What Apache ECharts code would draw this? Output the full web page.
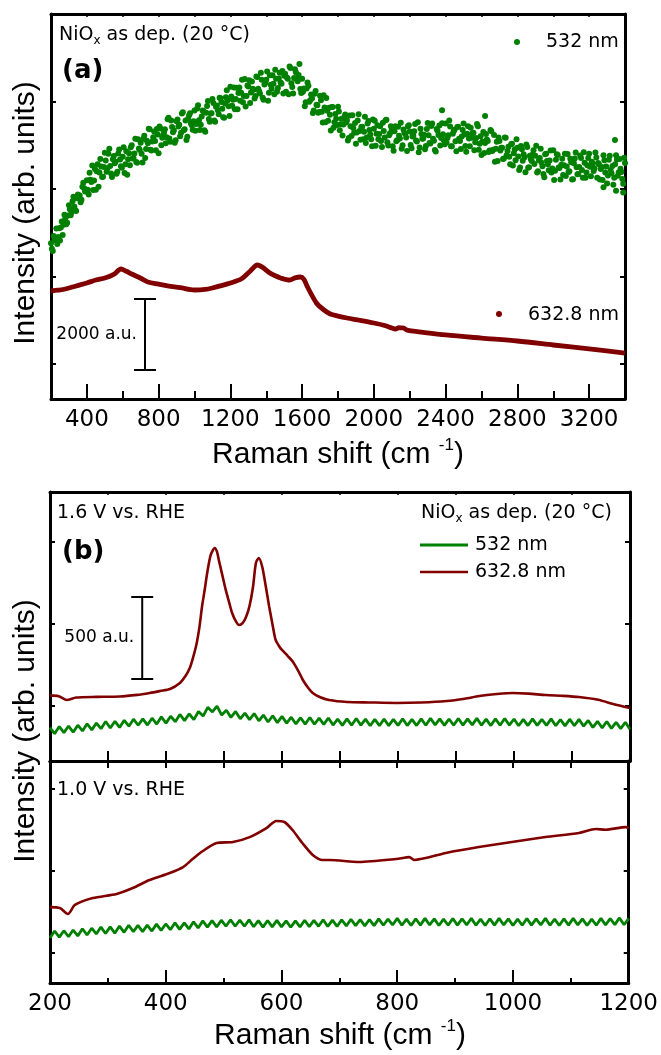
<!DOCTYPE html>
<html><head><meta charset="utf-8">
<script src="https://cdn.jsdelivr.net/npm/echarts/dist/echarts.min.js"></script>
<style>html,body{margin:0;padding:0;background:#fff}#c{width:661px;height:1055px}</style>
</head><body><div id="c"></div>
<script>
// ---------- Panel (a) data ----------
const greenA1 = [
[200,3450],[210,3230],[220,3555],[230,3870],[240,3630],[250,3530],[260,4070],[270,3980],[280,4160],[290,4035],
[300,4535],[310,4250],[320,4650],[330,4500],[340,4370],[350,4840],[360,4815],[370,4690],[380,5180],[390,4930],
[400,5250],[410,4840],[420,5265],[430,5670],[440,5240],[450,4980],[460,5710],[470,5470],[480,5640],[490,5350],
[500,6035],[510,5490],[520,6010],[530,5655],[540,5340],[550,5945],[560,5780],[570,5490],[580,6130],[590,5650],
[600,5920],[610,5460],[620,6080],[630,5850],[640,5680],[650,6250],[660,5885],[670,6435],[680,5750],[690,6160],
[700,6325],[710,5760],[720,6520],[730,6145],[740,6305],[750,6710],[760,6100],[770,6480],[780,6375],[790,6715],
[800,6020],[810,6728],[820,6465],[830,6613],[840,6310],[850,6993],[860,6445],[870,6958],[880,6620],[890,6318],
[900,6935],[910,6783],[920,6510],[930,7155],[940,6680],[950,6955],[960,6490],[970,7105],[980,6870],[990,6695],
[1000,7240],[1010,6855],[1020,7390],[1030,6685],[1040,7070],[1050,7218],[1060,6635],[1070,7373],[1080,7000],[1090,7160],
[1100,7570],[1110,6960],[1120,7350],[1130,7253],[1140,7605],[1150,7488],[1160,7050],[1170,7445],[1180,7820],[1190,7365],
[1200,7920],[1210,7380],[1220,7900],[1230,7570],[1240,7280],[1250,7900],[1260,7750],[1270,7480],[1280,8140],[1290,7660],
[1300,7930],[1310,7460],[1320,8070],[1330,7833],[1340,7655],[1350,8198],[1360,7800],[1370,8325],[1380,7610],[1390,7985],
[1400,8120],[1410,7525],[1420,8250],[1430,7865],[1440,8010],[1450,8405],[1460,7780],[1470,8155],[1480,8040],[1490,8373],
[1500,8235],[1510,7778],[1520,8150],[1530,8503],[1540,8025],[1550,7728],[1560,8420],[1570,8135],[1580,8260],[1590,7860],
[1600,8150],[1610,7870],[1620,7480],[1630,8040],[1640,7490],[1650,7700],[1660,7170],[1670,7720],[1680,7410],[1690,7180],
[1700,7665],[1710,7210],[1720,7680],[1730,6910],[1740,7235],[1750,7320],[1760,6670],[1770,7345],[1780,6910],[1790,7005],
[1800,7350],[1810,6678],[1820,7005],[1830,6843],[1840,7130],[1850,6955],[1860,6460],[1870,6795],[1880,7110],[1890,6610],
[1900,6290],[1910,6960],[1920,6660],[1930,6768],[1940,6425],[1950,7063],[1960,6470],[1970,6940],[1980,6560],[1990,6220],
[2000,6720],[2010,6233],[2020,6825],[2030,6568],[2040,6370],[2050,6893],[2060,6475],[2070,6978],[2080,6240],[2090,6594],
[2100,6708],[2110,6091],[2120,6795],[2130,6391],[2140,6518],[2150,6894],[2160,6250],[2170,6608],[2180,6475],[2190,6793],
[2200,6640],[2210,6165],[2220,6520],[2230,6855],[2240,6360],[2250,6048],[2260,6725],[2270,6433],[2280,6550],[2290,6228],
[2300,6885],[2310,6313],[2320,6800],[2330,6438],[2340,6115],[2350,6713],[2360,6540],[2370,6245],[2380,6880],[2390,6395],
[2400,6870],[2410,6455],[2420,6960],[2430,6225],[2440,6580],[2450,6694],[2460,6078],[2470,6781],[2480,6375],[2490,6499],
[2500,6873],[2510,6226],[2520,6580],[2530,6440],[2540,6750],[2550,6590],[2560,6110],[2570,6460],[2580,6790],[2590,6290],
[2600,5970],[2610,6628],[2620,6315],[2630,6413],[2640,6060],[2650,6688],[2660,6085],[2670,6543],[2680,6150],[2690,5803],
[2700,6375],[2710,6178],[2720,5860],[2730,6473],[2740,5965],[2750,6208],[2760,5710],[2770,6293],[2780,6025],[2790,5818],
[2800,6180],[2810,5545],[2820,6230],[2830,5805],[2840,5910],[2850,6270],[2860,5610],[2870,5950],[2880,5800],[2890,6110],
[2900,5950],[2910,5470],[2920,5820],[2930,6151],[2940,5653],[2950,5334],[2960,6005],[2970,5704],[2980,5813],[2990,5471],
[3000,6110],[3010,5521],[3020,5993],[3030,5614],[3040,5275],[3050,5861],[3060,5678],[3070,5374],[3080,6000],[3090,5506],
[3100,5763],[3110,5279],[3120,5875],[3130,5623],[3140,5430],[3150,5958],[3160,5545],[3170,6053],[3180,5320],[3190,5678],
[3200,6005],[3210,5361],[3220,5718],[3230,5584],[3240,5900],[3250,5746],[3260,5273],[3270,5629],[3280,5965],[3290,5471],
[3300,5158],[3310,5834],[3320,5540],[3330,5655],[3340,5320],[3350,5965],[3360,5380],[3370,5858],[3380,5485],[3390,5153],
[3400,5740],
[2380,7250],[2620,7085],[3344,6400],[3390,4900],[3280,5050],[3350,4950]
];
const greenA2 = [
[205,3295],[215,3660],[225,3535],[235,3430],[245,3880],[255,3900],[265,3685],[275,4265],[285,3995],[295,4245],
[305,4425],[315,4345],[325,4780],[335,4400],[345,4735],[355,4740],[365,4620],[375,5065],[385,5025],[395,4935],
[405,4980],[415,5462],[425,5198],[435,4970],[445,5575],[455,5505],[465,5065],[475,5855],[485,5340],[495,5628],
[505,5813],[515,5590],[525,6148],[535,5443],[545,5848],[555,5733],[565,5435],[575,6015],[585,5845],[595,5605],
[605,6190],[615,5710],[625,5410],[635,6020],[645,6190],[655,5873],[665,6015],[675,5768],[685,6425],[695,6113],
[705,6008],[715,6435],[725,5883],[735,6380],[745,6718],[755,6125],[765,6360],[775,6643],[785,6105],[795,6558],
[805,6784],[815,6251],[825,6529],[835,6706],[845,6476],[855,7039],[865,6351],[875,6774],[885,6674],[895,6391],
[905,6989],[915,6836],[925,6608],[935,7193],[945,6708],[955,6403],[965,7008],[975,7163],[985,6818],[995,6933],
[1005,6663],[1015,7298],[1025,6963],[1035,6838],[1045,7244],[1055,6681],[1065,7179],[1075,7516],[1085,6925],[1095,7165],
[1105,7455],[1115,6925],[1125,7386],[1135,7139],[1145,7591],[1155,7294],[1165,7038],[1175,7623],[1185,7538],[1195,7083],
[1205,7640],[1215,7550],[1225,7280],[1235,7890],[1245,7745],[1255,7525],[1265,8125],[1275,7655],[1285,7355],[1295,7955],
[1305,8105],[1315,7755],[1325,7867],[1335,7589],[1345,8212],[1355,7864],[1365,7728],[1375,8123],[1385,7548],[1395,8033],
[1405,8358],[1415,7753],[1425,7978],[1435,8253],[1445,7708],[1455,8153],[1465,7888],[1475,8323],[1485,8007],[1495,7729],
[1505,8292],[1515,8184],[1525,7707],[1535,8459],[1545,7912],[1555,8174],[1565,8333],[1575,8078],[1585,8575],[1595,7745],
[1605,7780],[1615,7365],[1625,7875],[1635,7950],[1645,7535],[1655,7585],[1665,7245],[1675,7800],[1685,7390],[1695,7198],
[1705,7533],[1715,6900],[1725,7330],[1735,7603],[1745,6948],[1755,7120],[1765,7343],[1775,6748],[1785,7143],[1795,6828],
[1805,7214],[1815,6851],[1825,6529],[1835,7046],[1845,6898],[1855,6383],[1865,7098],[1875,6513],[1885,6745],[1895,6885],
[1905,6615],[1915,7135],[1925,6404],[1935,6781],[1945,6639],[1955,6316],[1965,6875],[1975,6685],[1985,6425],[1995,6985],
[2005,6947],[2015,6579],[2025,6422],[2035,6794],[2045,6197],[2055,6659],[2065,6962],[2075,6334],[2085,6537],[2095,6791],
[2105,6225],[2115,6648],[2125,6363],[2135,6780],[2145,6446],[2155,6152],[2165,6699],[2175,6577],[2185,6084],[2195,6822],
[2205,6258],[2215,6503],[2225,6648],[2235,6383],[2245,6909],[2255,6187],[2265,6574],[2275,6442],[2285,6134],[2295,6712],
[2305,6539],[2315,6297],[2325,6874],[2335,6382],[2345,6069],[2355,6667],[2365,6813],[2375,6458],[2385,6563],[2395,6278],
[2405,6328],[2415,6533],[2425,6788],[2435,6223],[2445,6647],[2455,6361],[2465,6775],[2475,6438],[2485,6142],[2495,6686],
[2505,6560],[2515,6063],[2525,6795],[2535,6225],[2545,6465],[2555,6605],[2565,6335],[2575,6855],[2585,6125],[2595,6505],
[2605,6359],[2615,6027],[2625,6574],[2635,6372],[2645,6099],[2655,6647],[2665,6124],[2675,5782],[2685,6352],[2695,6474],
[2705,6097],[2715,6179],[2725,5872],[2735,6464],[2745,6087],[2755,5919],[2765,6282],[2775,5674],[2785,6127],[2795,6419],
[2805,5928],[2815,5613],[2825,6138],[2835,5993],[2845,5480],[2855,6200],[2865,5620],[2875,5850],[2885,5985],[2895,5715],
[2905,6235],[2915,5505],[2925,5886],[2935,5747],[2945,5428],[2955,5990],[2965,5800],[2975,5538],[2985,6097],[2995,5586],
[3005,5256],[3015,5837],[3025,5968],[3035,5600],[3045,5693],[3055,5400],[3065,6006],[3075,5642],[3085,5488],[3095,5865],
[3105,5271],[3115,5737],[3125,6044],[3135,5421],[3145,5629],[3155,5886],[3165,5324],[3175,5751],[3185,5469],[3195,5886],
[3205,5633],[3215,5780],[3225,5516],[3235,6042],[3245,5318],[3255,5705],[3265,5571],[3275,5257],[3285,5823],[3295,5640],
[3305,5386],[3315,5952],[3325,5448],[3335,5123],[3345,5708],[3355,5843],[3365,5479],[3375,5577],[3385,5284],[3395,5892]
];
const redA = [
[200,2086],[240,2110],[280,2143],[340,2230],[400,2314],[450,2400],[500,2457],[550,2560],[590,2714],[620,2650],
[650,2571],[700,2450],[740,2343],[800,2280],[850,2229],[920,2180],[1000,2114],[1060,2130],[1100,2171],[1150,2240],
[1200,2314],[1260,2428],[1310,2650],[1350,2828],[1380,2760],[1420,2600],[1450,2520],[1480,2457],[1530,2400],[1560,2460],
[1590,2486],[1610,2420],[1630,2200],[1680,1743],[1720,1550],[1757,1430],[1800,1370],[1850,1314],[1920,1250],[2000,1171],
[2060,1100],[2100,1029],[2120,1000],[2140,1040],[2165,1029],[2190,960],[2250,920],[2400,829],[2600,740],[2800,657],
[3000,543],[3200,429],[3400,314]
];
const xLabelsA = [400,800,1200,1600,2000,2400,2800,3200];
const xMinorA = [600,1000,1400,1800,2200,2600,3000];
const yTicksA = [0,2500,5000,7500];
const scaleBarA = [[724,-171,1857]];
const scaleLabelA = '2000 a.u.';

// ---------- Panel (b) data ----------
const xWave = [200,208,216,224,232,240,248,256,264,272,280,288,296,304,312,320,328,336,344,352,360,368,376,384,392,
400,408,416,424,432,440,448,456,464,472,480,488,496,504,512,520,528,536,544,552,560,568,576,584,592,
600,608,616,624,632,640,648,656,664,672,680,688,696,704,712,720,728,736,744,752,760,768,776,784,792,
800,808,816,824,832,840,848,856,864,872,880,888,896,904,912,920,928,936,944,952,960,968,976,984,992,
1000,1008,1016,1024,1032,1040,1048,1056,1064,1072,1080,1088,1096,1104,1112,1120,1128,1136,1144,1152,1160,1168,1176,1184,1192,1200];
const greenB1 = [368,331,375,338,378,341,383,348,392,355,396,362,406,366,407,370,413,377,420,383,422,384,426,390,434,
396,438,405,449,411,453,417,467,439,492,464,500,445,474,431,467,422,457,417,454,410,445,403,441,399,
437,396,432,391,429,390,430,389,426,388,427,384,421,382,422,383,424,384,420,380,419,381,421,381,419,
382,423,381,419,381,422,383,425,385,422,382,421,383,424,384,422,385,425,383,420,381,422,383,424,384,
421,380,419,381,422,382,419,382,422,380,418,379,420,380,419,377,412,370,407,367,406,364,401,362,401,358];
const greenB2 = [591,634,597,636,599,640,604,648,610,651,616,658,619,659,621,664,626,669,630,668,630,670,634,676,638,
677,642,684,644,684,647,690,653,696,658,697,659,700,663,703,663,700,663,702,660,697,658,698,659,699,
659,696,657,696,659,700,661,699,663,703,662,700,662,703,665,706,667,704,665,704,667,708,669,707,671,
711,669,707,668,709,670,711,671,708,668,707,669,710,670,708,671,711,669,707,668,709,670,711,671,708,
668,707,669,710,670,708,671,711,669,707,668,709,670,711,671,708,668,707,669,711,671,710,673,714,672,711];
const redB1 = [
[200,565],[215,560],[229,537],[245,552],[280,556],[320,558],[350,568],[372,580],[390,592],[407,604],
[424,641],[433,680],[441,732],[447,800],[453,885],[458,990],[462,1104],[467,1215],[471,1311],[477,1420],
[484,1464],[488,1440],[491,1391],[497,1300],[503,1208],[509,1130],[514,1067],[520,1020],[526,994],[532,1005],
[538,1043],[544,1110],[550,1226],[555,1372],[560,1403],[566,1348],[572,1230],[578,1104],[584,990],[589,903],
[595,865],[600,842],[610,805],[619,769],[628,715],[636,659],[645,612],[653,580],[665,555],[681,537],
[712,525],[750,522],[798,519],[840,522],[884,531],[915,545],[940,561],[970,573],[998,580],[1025,576],
[1055,567],[1085,562],[1112,555],[1145,538],[1171,513],[1200,488]
];
const redB2 = [
[200,780],[217,774],[231,738],[243,793],[274,835],[315,860],[343,896],[372,945],[407,988],[430,1024],
[447,1075],[464,1122],[488,1171],[516,1177],[545,1207],[574,1262],[591,1305],[605,1299],[619,1250],[636,1171],
[654,1098],[671,1067],[683,1067],[734,1055],[798,1073],[821,1085],[829,1067],[884,1110],[941,1146],[998,1177],
[1056,1207],[1114,1232],[1143,1256],[1160,1252],[1195,1268],[1200,1262]
];
const yTicksB = [500,1000,1500];
const scaleBarB = [[359,665,1165]];
const scaleLabelB = '500 a.u.';

// ---------- styling ----------
const GREEN = '#008000', RED = '#800000', BLACK = '#000';
const DV = '"DejaVu Sans"', LS = '"Liberation Sans"';
const zip = (xs, ys) => xs.map((x, i) => [x, ys[i]]);
const plain = v => String(v);

function scaleBar(label) {
  return function (params, api) {
    const x = api.value(0);
    const a = api.coord([x, api.value(1)]);
    const b = api.coord([x, api.value(2)]);
    const hw = 11, st = {stroke: BLACK, lineWidth: 2};
    return {type: 'group', children: [
      {type: 'line', shape: {x1: a[0], y1: a[1], x2: b[0], y2: b[1]}, style: st},
      {type: 'line', shape: {x1: a[0] - hw, y1: a[1], x2: a[0] + hw, y2: a[1]}, style: st},
      {type: 'line', shape: {x1: b[0] - hw, y1: b[1], x2: b[0] + hw, y2: b[1]}, style: st},
      {type: 'text', x: a[0] - 8, y: (a[1] + b[1]) / 2,
        style: {text: label, fill: BLACK, font: '17px ' + DV, align: 'right', textAlign: 'right', verticalAlign: 'middle', textVerticalAlign: 'middle'}}
    ]};
  };
}

const axLine = {show: true, onZero: false, lineStyle: {color: BLACK, width: 3}};
const noLabel = {show: false};
const noSplit = {show: false};

function txt(x, y, text, font) {
  return {type: 'text', x: x, y: y, style: {text: text, font: font, fill: BLACK,
    align: 'left', textAlign: 'left', verticalAlign: 'middle', textVerticalAlign: 'middle'}};
}
function nioText(x, y) {
  return {type: 'text', x: x, y: y, style: {
    text: '{a|NiO}{s|x}{a| as dep. (20 °C)}',
    rich: {a: {fontSize: 19, fontFamily: 'DejaVu Sans', fill: BLACK, lineHeight: 24},
           s: {fontSize: 12, fontFamily: 'DejaVu Sans', fill: BLACK, lineHeight: 4, verticalAlign: 'bottom'}},
    align: 'left', textAlign: 'left', verticalAlign: 'middle', textVerticalAlign: 'middle'}};
}
function xTitle(x, y) {
  return {type: 'text', x: x, y: y, style: {
    text: '{t|Raman shift (cm }{p|-1}{t|)}',
    rich: {t: {fontSize: 30, fontFamily: 'Liberation Sans', fill: BLACK, lineHeight: 36},
           p: {fontSize: 17, fontFamily: 'Liberation Sans', fill: BLACK, lineHeight: 16, verticalAlign: 'top'}},
    align: 'center', textAlign: 'center', verticalAlign: 'middle', textVerticalAlign: 'middle'}};
}
function yTitle(x, y) {
  return {type: 'text', x: x, y: y, rotation: Math.PI / 2, style: {
    text: 'Intensity (arb. units)', font: '30px ' + LS, fill: BLACK,
    align: 'center', textAlign: 'center', verticalAlign: 'middle', textVerticalAlign: 'middle'}};
}
function tick(len, extra) {
  return Object.assign({show: true, inside: true, length: len, lineStyle: {color: BLACK, width: 2}}, extra || {});
}

const chart = echarts.init(document.getElementById('c'), null, {renderer: 'canvas'});
chart.setOption({
  animation: false,
  backgroundColor: '#fff',
  grid: [
    {left: 51, top: 14, width: 574, height: 385},
    {left: 50, top: 492, width: 580, height: 269},
    {left: 50, top: 761, width: 580, height: 222}
  ],
  xAxis: [
    {gridIndex: 0, type: 'value', min: 200, max: 3400, position: 'bottom', axisLine: axLine,
      axisTick: tick(15, {customValues: xLabelsA}),
      axisLabel: {show: true, customValues: xLabelsA, formatter: plain, margin: 10, color: BLACK, fontSize: 23, fontFamily: 'DejaVu Sans'},
      splitLine: noSplit},
    {gridIndex: 0, type: 'value', min: 200, max: 3400, position: 'bottom', axisLine: {show: false, onZero: false},
      axisTick: tick(8, {customValues: xMinorA}), axisLabel: noLabel, splitLine: noSplit},
    {gridIndex: 0, type: 'value', min: 200, max: 3400, interval: 200, position: 'top', axisLine: axLine,
      axisTick: tick(3, {lineStyle: {color: BLACK, width: 1.5}}), axisLabel: noLabel, splitLine: noSplit},
    {gridIndex: 1, type: 'value', min: 200, max: 1200, interval: 100, position: 'bottom', axisLine: axLine,
      axisTick: tick(10), axisLabel: noLabel, splitLine: noSplit},
    {gridIndex: 1, type: 'value', min: 200, max: 1200, interval: 100, position: 'top', axisLine: axLine,
      axisTick: tick(3, {lineStyle: {color: BLACK, width: 1.5}}), axisLabel: noLabel, splitLine: noSplit},
    {gridIndex: 2, type: 'value', min: 200, max: 1200, interval: 200, position: 'bottom', axisLine: axLine,
      axisTick: tick(13),
      minorTick: {show: true, splitNumber: 2, length: 5, lineStyle: {color: BLACK, width: 2}},
      axisLabel: {show: true, formatter: plain, margin: 10, color: BLACK, fontSize: 23, fontFamily: 'DejaVu Sans'},
      splitLine: noSplit, minorSplitLine: {show: false}},
    {gridIndex: 2, type: 'value', min: 200, max: 1200, interval: 100, position: 'top', axisLine: axLine,
      axisTick: tick(7), axisLabel: noLabel, splitLine: noSplit}
  ],
  yAxis: [
    {gridIndex: 0, type: 'value', min: -1000, max: 10000, position: 'left', axisLine: axLine,
      axisTick: tick(5, {customValues: yTicksA}), axisLabel: noLabel, splitLine: noSplit},
    {gridIndex: 0, type: 'value', min: -1000, max: 10000, position: 'right', axisLine: axLine,
      axisTick: tick(5, {customValues: yTicksA}), axisLabel: noLabel, splitLine: noSplit},
    {gridIndex: 1, type: 'value', min: 165, max: 1805, position: 'left', axisLine: axLine,
      axisTick: tick(5, {customValues: yTicksB}), axisLabel: noLabel, splitLine: noSplit},
    {gridIndex: 1, type: 'value', min: 165, max: 1805, position: 'right', axisLine: axLine,
      axisTick: tick(5, {customValues: yTicksB}), axisLabel: noLabel, splitLine: noSplit},
    {gridIndex: 2, type: 'value', min: 317, max: 1671, position: 'left', axisLine: axLine,
      axisTick: tick(5, {customValues: yTicksB}), axisLabel: noLabel, splitLine: noSplit},
    {gridIndex: 2, type: 'value', min: 317, max: 1671, position: 'right', axisLine: axLine,
      axisTick: tick(5, {customValues: yTicksB}), axisLabel: noLabel, splitLine: noSplit}
  ],
  series: [
    {name: '532 nm', type: 'scatter', xAxisIndex: 0, yAxisIndex: 0, data: greenA1.concat(greenA2), symbolSize: 6,
      itemStyle: {color: GREEN, opacity: 1}, z: 3},
    {name: '632.8 nm', type: 'line', xAxisIndex: 0, yAxisIndex: 0, data: redA, showSymbol: false, smooth: 0.3,
      lineStyle: {color: RED, width: 4.8}, itemStyle: {color: RED}},
    {type: 'custom', xAxisIndex: 0, yAxisIndex: 0, data: scaleBarA, renderItem: scaleBar(scaleLabelA),
      encode: {x: 0, y: [1, 2]}, clip: false, silent: true},
    {name: '632.8 nm', type: 'line', xAxisIndex: 3, yAxisIndex: 2, data: redB1, showSymbol: false, smooth: 0.25,
      lineStyle: {color: RED, width: 2.6}, itemStyle: {color: RED}},
    {name: '532 nm', type: 'line', xAxisIndex: 3, yAxisIndex: 2, data: zip(xWave, greenB1), showSymbol: false,
      lineStyle: {color: GREEN, width: 2.8}, itemStyle: {color: GREEN}},
    {type: 'custom', xAxisIndex: 3, yAxisIndex: 2, data: scaleBarB, renderItem: scaleBar(scaleLabelB),
      encode: {x: 0, y: [1, 2]}, clip: false, silent: true},
    {name: '632.8 nm', type: 'line', xAxisIndex: 5, yAxisIndex: 4, data: redB2, showSymbol: false, smooth: 0.25,
      lineStyle: {color: RED, width: 2.6}, itemStyle: {color: RED}},
    {name: '532 nm', type: 'line', xAxisIndex: 5, yAxisIndex: 4, data: zip(xWave, greenB2), showSymbol: false,
      lineStyle: {color: GREEN, width: 2.8}, itemStyle: {color: GREEN}}
  ],
  graphic: [
    nioText(59, 35),
    txt(62, 71, '(a)', 'bold 26px ' + DV),
    {type: 'circle', shape: {cx: 517, cy: 42, r: 3}, style: {fill: GREEN}},
    txt(546, 42, '532 nm', '19px ' + DV),
    {type: 'circle', shape: {cx: 499, cy: 314, r: 3}, style: {fill: RED}},
    txt(528, 315, '632.8 nm', '19px ' + DV),
    xTitle(338, 455),
    yTitle(26, 213),
    txt(57, 513, '1.6 V vs. RHE', '19px ' + DV),
    txt(62, 552, '(b)', 'bold 26px ' + DV),
    nioText(421, 513),
    {type: 'line', shape: {x1: 420, y1: 545, x2: 468, y2: 545}, style: {stroke: GREEN, lineWidth: 3}},
    txt(475, 545, '532 nm', '19px ' + DV),
    {type: 'line', shape: {x1: 420, y1: 572, x2: 468, y2: 572}, style: {stroke: RED, lineWidth: 2.5}},
    txt(475, 572, '632.8 nm', '19px ' + DV),
    txt(57, 790, '1.0 V vs. RHE', '19px ' + DV),
    xTitle(340, 1036),
    yTitle(26, 731)
  ]
});
</script></body></html>
